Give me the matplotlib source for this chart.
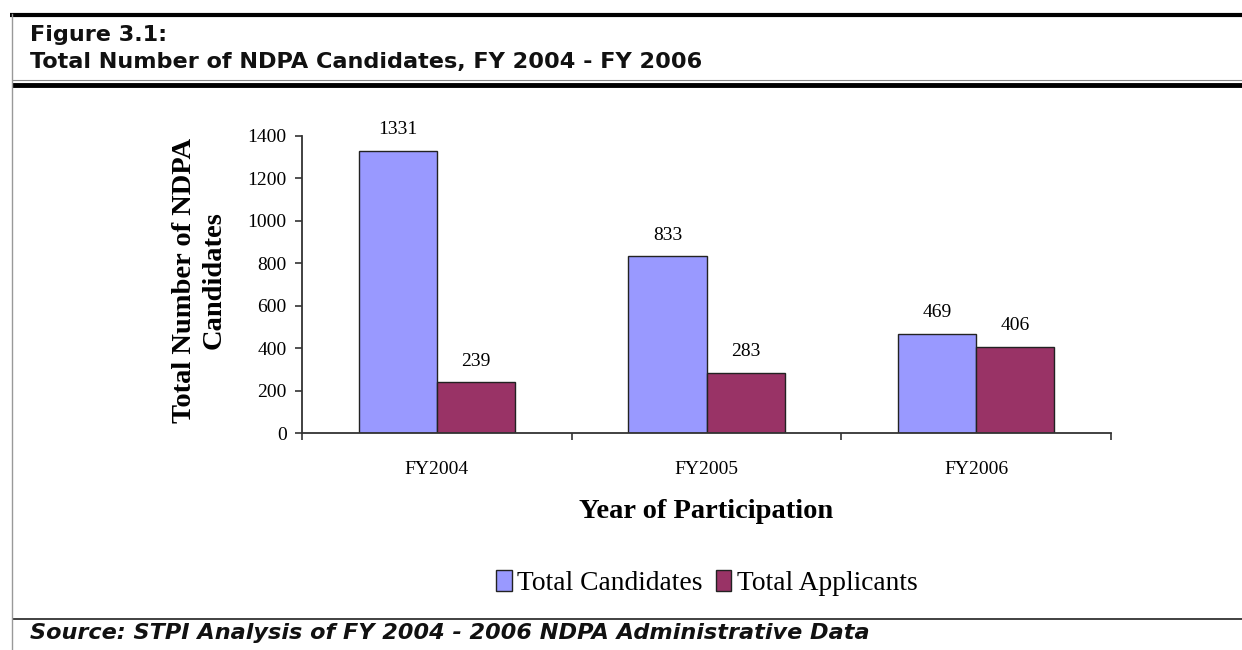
import matplotlib
matplotlib.use("Agg")
import matplotlib.pyplot as plt
from matplotlib.lines import Line2D
import numpy as np

# chart data
years = ["FY2004", "FY2005", "FY2006"]
total_candidates = [1331, 833, 469]
total_applicants = [239, 283, 406]
series_names = ["Total Candidates", "Total Applicants"]
yticks = [0, 200, 400, 600, 800, 1000, 1200, 1400]

W, H = 1242, 650
fig = plt.figure(figsize=(W / 100, H / 100), dpi=100)

def fx(px):
    return px / W

def fy(py):
    return 1 - py / H

# frame lines of the figure box
def hline(y, x0, x1, lw, color="black"):
    fig.add_artist(Line2D([fx(x0), fx(x1)], [fy(y), fy(y)], transform=fig.transFigure,
                          lw=lw, color=color, solid_capstyle="butt"))

hline(14.5, 10, W, 3.0)
hline(80, 12, W, 0.8, "#888888")
hline(85, 12, W, 3.5)
hline(619, 12, W, 1.3, "#333333")
fig.add_artist(Line2D([fx(11.5), fx(11.5)], [fy(14), fy(H)], transform=fig.transFigure,
                      lw=1.0, color="#999999"))

# header and source
fig.text(fx(30), fy(35), "Figure 3.1:", fontsize=16.1, fontweight="bold",
         family="DejaVu Sans", va="center", ha="left", color="#111111")
fig.text(fx(30), fy(62), "Total Number of NDPA Candidates, FY 2004 - FY 2006", fontsize=16.1,
         fontweight="bold", family="DejaVu Sans", va="center", ha="left", color="#111111")
fig.text(fx(30), fy(633), "Source: STPI Analysis of FY 2004 - 2006 NDPA Administrative Data",
         fontsize=16.1, fontweight="bold", style="italic", family="DejaVu Sans",
         va="center", ha="left", color="#111111")

# plot area
ax = fig.add_axes([fx(302), fy(433), fx(1111) - fx(302), fy(136) - fy(433)])
x = np.arange(len(years))
w = 0.29
b1 = ax.bar(x - w / 2, total_candidates, w, color="#9999FF", edgecolor="#222222",
            linewidth=1.0, label=series_names[0])
b2 = ax.bar(x + w / 2, total_applicants, w, color="#993366", edgecolor="#222222",
            linewidth=1.0, label=series_names[1])

serif = "Liberation Serif"
for bars in (b1, b2):
    for r in bars:
        ax.annotate(str(int(r.get_height())), (r.get_x() + r.get_width() / 2, r.get_height()),
                    xytext=(0, 9), textcoords="offset points", ha="center", va="bottom",
                    fontsize=14, family=serif)

ax.set_xlim(-0.5, 2.5)
ax.set_ylim(0, 1400)
ax.set_yticks(yticks)
ax.set_yticklabels([str(v) for v in yticks], family=serif, fontsize=14)
ax.set_xticks(x)
ax.set_xticklabels(years, family=serif, fontsize=14)
ax.set_xticks([-0.5, 0.5, 1.5, 2.5], minor=True)
ax.tick_params(axis="x", which="major", length=0, pad=20)
ax.tick_params(axis="x", which="minor", length=5, width=1.2, color="#333333")
ax.tick_params(axis="y", length=5, width=1.2, color="#333333", pad=6)

for s in ("top", "right"):
    ax.spines[s].set_visible(False)
for s in ("left", "bottom"):
    ax.spines[s].set_color("#333333")
    ax.spines[s].set_linewidth(1.3)

ax.set_xlabel("Year of Participation", family=serif, fontsize=20.5, fontweight="bold")
ax.xaxis.set_label_coords(0.5, (433 - 512) / 297)
ax.xaxis.label.set_va("center")
ax.set_ylabel("Total Number of NDPA\nCandidates", family=serif, fontsize=20.5,
              fontweight="bold", linespacing=1.25)
ax.yaxis.set_label_coords((199 - 302) / 809, 0.515)
ax.yaxis.label.set_va("center")

leg = fig.legend(loc="center", bbox_to_anchor=(fx(707), fy(583)), ncol=2, frameon=False,
                 prop={"family": serif, "size": 19.8}, handlelength=0.55, handleheight=0.8,
                 handletextpad=0.2, columnspacing=0.5)

fig.savefig("out.png", dpi=100)
